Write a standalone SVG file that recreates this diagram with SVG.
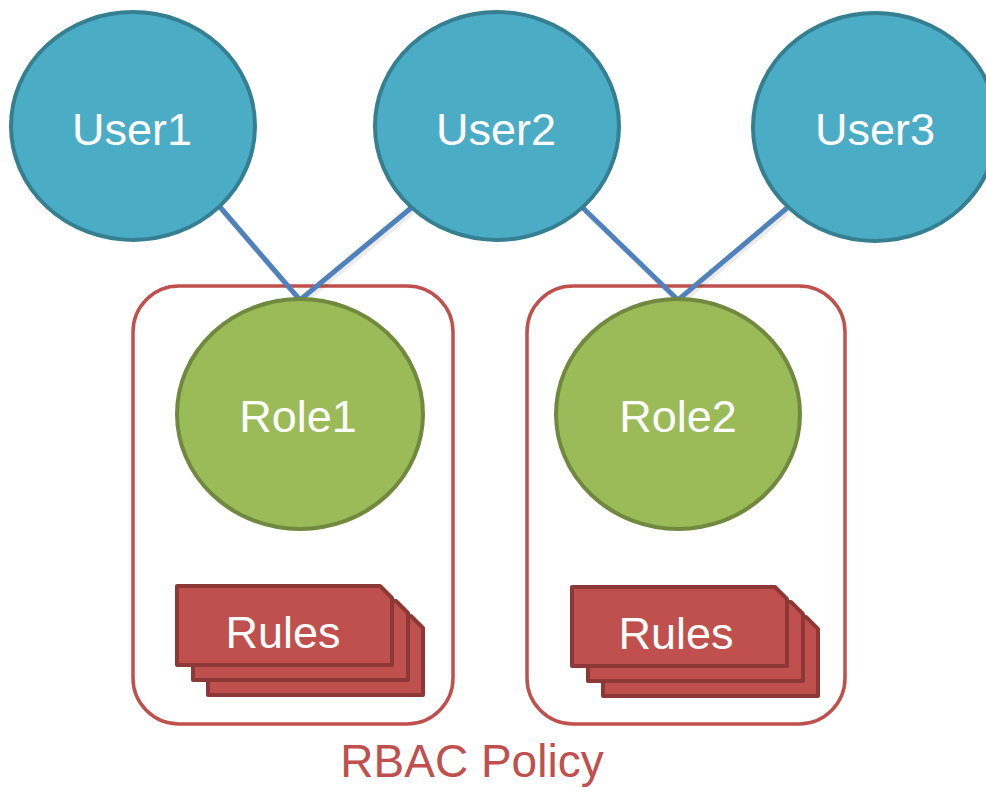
<svg xmlns="http://www.w3.org/2000/svg" width="986" height="788" viewBox="0 0 986 788">
  <defs>
    <style>
      .user ellipse { fill: #4BACC6; stroke: #357F91; stroke-width: 4; }
      .role ellipse { fill: #9BBB59; stroke: #71893F; stroke-width: 4; }
      .policy { fill: none; stroke: #C0504D; stroke-width: 3.5; }
      .sheet { fill: #C0504D; stroke: #8C3836; stroke-width: 4; stroke-linejoin: round; }
      .label { font-family: "Liberation Sans", Arial, sans-serif; font-size: 45px; fill: #FFFFFF; text-anchor: middle; }
      .caption { font-family: "Liberation Sans", Arial, sans-serif; font-size: 46px; fill: #C0504D; text-anchor: middle; }
      .link { fill: none; stroke: #4F81BD; stroke-width: 5; stroke-linejoin: miter; }
      .link-shadow { fill: none; stroke: #000000; stroke-opacity: 0.08; stroke-width: 5; }
    </style>
    <!-- stacked rule sheet with a snipped top-right corner -->
    <path id="sheet" d="M0,0 H203 L215,12 V79 H0 Z"/>
  </defs>

  <!-- policy containers -->
  <g id="policy1">
    <rect class="policy" x="133" y="286" width="320" height="438" rx="46" ry="46"/>
  </g>
  <g id="policy2">
    <rect class="policy" x="527" y="286" width="318" height="438" rx="46" ry="46"/>
  </g>

  <!-- connectors between users and roles -->
  <g id="connectors">
    <polyline class="link-shadow" points="221,209 301,302 412,210" transform="translate(1,1.5)"/>
    <polyline class="link-shadow" points="584,210 679,302 788,210" transform="translate(1,1.5)"/>
    <polyline class="link" points="220,207 300,300 411,208"/>
    <polyline class="link" points="583,208 678,300 787,208"/>
  </g>

  <!-- users -->
  <g id="user1" class="user">
    <ellipse cx="133" cy="126" rx="122" ry="114"/>
    <text class="label" x="132" y="145">User1</text>
  </g>
  <g id="user2" class="user">
    <ellipse cx="497" cy="126" rx="122" ry="114"/>
    <text class="label" x="496" y="145">User2</text>
  </g>
  <g id="user3" class="user">
    <ellipse cx="875" cy="127" rx="122" ry="114"/>
    <text class="label" x="875" y="145">User3</text>
  </g>

  <!-- roles -->
  <g id="role1" class="role">
    <ellipse cx="300" cy="414" rx="123" ry="115"/>
    <text class="label" x="298" y="432">Role1</text>
  </g>
  <g id="role2" class="role">
    <ellipse cx="678" cy="414" rx="122" ry="115"/>
    <text class="label" x="678" y="432">Role2</text>
  </g>

  <!-- rule stacks -->
  <g id="rules1">
    <use href="#sheet" class="sheet" transform="translate(208,616)"/>
    <use href="#sheet" class="sheet" transform="translate(193,601)"/>
    <use href="#sheet" class="sheet" transform="translate(177,586)"/>
    <text class="label" x="283" y="648">Rules</text>
  </g>
  <g id="rules2">
    <use href="#sheet" class="sheet" transform="translate(603,617)"/>
    <use href="#sheet" class="sheet" transform="translate(588,602)"/>
    <use href="#sheet" class="sheet" transform="translate(572,587)"/>
    <text class="label" x="676" y="649">Rules</text>
  </g>

  <g id="caption">
    <text class="caption" x="472" y="777">RBAC Policy</text>
  </g>
</svg>
